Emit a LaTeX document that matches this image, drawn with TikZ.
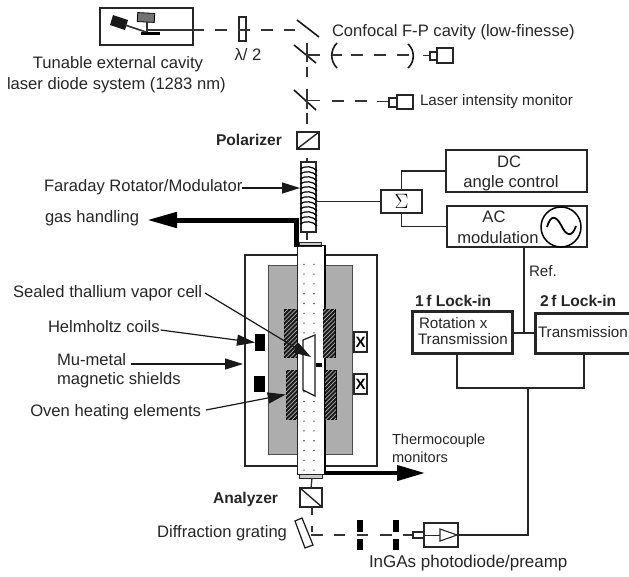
\documentclass[tikz,border=0pt]{standalone}
\usepackage{fontspec}
\setmainfont{Liberation Sans}
\usetikzlibrary{arrows.meta,patterns.meta,calc}
\tikzset{
 lbl/.style={anchor=west,inner sep=0pt,outer sep=0pt,font=\fontsize{16.6}{18}\selectfont,text=black!85},
 lbls/.style={lbl,font=\fontsize{15.2}{17}\selectfont},
 lblb/.style={lbl,font=\fontsize{15.6}{17}\selectfont\bfseries},
 ctr/.style={lbl,anchor=center},
 thinl/.style={line width=1.2pt,black!85},
 pbox/.style={draw=black!85,line width=1.3pt,fill=white,inner sep=0pt,outer sep=0pt},
 tbox/.style={pbox,line width=1.6pt},
 hbox/.style={pbox,line width=3pt},
 beam/.style={line width=1.2pt,black!80,dash pattern=on 12pt off 11pt},
 solidb/.style={line width=1.2pt,black!80},
 mirror/.style={line width=1.6pt,black!90},
 blk/.style={fill=black,draw=none,inner sep=0pt,outer sep=0pt},
 ptr/.style={line width=1.2pt,black!90,-{Triangle[length=18pt,width=11pt]}},
 hatchd/.style={fill=black!90,draw=black,line width=.6pt,postaction={pattern={Lines[angle=45,distance=3pt,line width=.7pt]},pattern color=white!70!black}},
 dotc/.style={fill=black!70,circle,inner sep=0pt,minimum size=1.6pt},
}
\begin{document}
\begin{tikzpicture}[x=1pt,y=-1pt]
\useasboundingbox (0,0) rectangle (629,576);
% laser
\node[tbox,minimum width=93pt,minimum height=37pt] (laser) at (146.5,26.5) {};
\fill[black!90] (113,15) -- (128,20) -- (125,30) -- (110,25) -- cycle;
\node[draw=black,fill=black!55,line width=.8pt,minimum width=17pt,minimum height=9pt,inner sep=0pt,rotate=-3] (gain) at (146,17.5) {};
\node[blk,minimum width=19pt,minimum height=3pt] (ggrat) at (150.5,33.5) {};
\draw[solidb,line width=1.6pt] (125,25) -- (146,32);
\draw[solidb,line width=1.6pt] (147,22) -- (147,32);
\coordinate (bstart) at (147,30);
\coordinate (bsolid) at (204,30);
\draw[solidb] (bstart) -- (bsolid);
\node[pbox,line width=1.2pt,minimum width=7pt,minimum height=24pt] (wave) at (242.5,29) {};
\draw[beam] (215,30) -- (295,30);
\node[ctr] (lam) at (248,55) {λ/ 2};
\node[ctr] (tun1) at (118,64) {Tunable external cavity};
\node[lbl] (tun2) at (7,85) {laser diode system (1283 nm)};
% mirrors
\draw[mirror] (297,20) -- (319,37);
\draw[mirror] (294,45) -- (316,63);
\draw[mirror] (294,90) -- (316,110);
\draw[solidb] (307,43) -- (307,62);
\draw[solidb] (307,55) -- (320,55);
\draw[solidb] (307,67) -- (307,77);
\draw[solidb] (307,89) -- (307,109);
\draw[solidb] (307,100.5) -- (320,100.5);
\draw[solidb] (307,113) -- (307,124);
% cavity
\draw[mirror] (337,43) .. controls (330,50) and (330,61) .. (337,68);
\draw[solidb] (332,55) -- (342,55);
\draw[beam] (351,55) -- (412,55);
\draw[mirror] (408,44) .. controls (415,50) and (415,62) .. (408,68);
\node[lbl] (conf) at (332,32) {Confocal F-P cavity (low-finesse)};
\draw[solidb] (423,55.5) -- (430,55.5);
\node[pbox,line width=1.1pt,minimum width=7pt,minimum height=8pt] (pdas) at (433.5,56) {};
\node[pbox,line width=1.1pt,minimum width=16pt,minimum height=15pt] (pdab) at (445,55.5) {};
% monitor
\draw[beam] (332,101) -- (370,101);
\draw[solidb] (377,101.5) -- (389,101.5);
\node[pbox,line width=1.1pt,minimum width=8pt,minimum height=9pt] (pdbs) at (393,102.5) {};
\node[pbox,line width=1.1pt,minimum width=16pt,minimum height=14pt] (pdbb) at (405,102) {};
\node[lbls] (lim) at (420,102) {Laser intensity monitor};
% polarizer
\node[pbox,line width=1.4pt,minimum width=22pt,minimum height=17pt] (pol) at (308,140.5) {};
\draw[line width=1.4pt,black!85] (pol.south west) -- (pol.north east);
\node[lblb] (polt) at (216,140) {Polarizer};
% outer housing
\node[pbox,minimum width=132pt,minimum height=211pt] (housing) at (311,360.5) {};
\node[draw=black!70,line width=1pt,fill=black!32,inner sep=0pt,minimum width=84pt,minimum height=189pt] (shield) at (310,359.5) {};
% tube
\node[draw=none,fill=white,inner sep=0pt,minimum width=28pt,minimum height=229pt] (tube) at (311,359.5) {};
\foreach \yy in {0,...,21}{
 \node[dotc] at (304,264.3+9.8*\yy) {};
 \node[dotc] at (314,264.3+9.8*\yy) {};
}
\draw[line width=1pt,black!85] (297,245) -- (297,474) -- (325,474);
\draw[line width=1.3pt,black] (325,245) -- (325,474);
\node[draw=black!85,fill=black!20,line width=.8pt,inner sep=0pt,minimum width=22pt,minimum height=4pt] (capt) at (310,244) {};
\draw[line width=1.1pt,black] (298,245.5) -- (325,245.5);
\node[draw=black!85,fill=black!20,line width=.8pt,inner sep=0pt,minimum width=23pt,minimum height=4pt] (capb) at (310.5,476.5) {};
% oven heaters
\node[hatchd,inner sep=0pt,minimum width=13pt,minimum height=48pt] (ul) at (290.5,333) {};
\node[hatchd,inner sep=0pt,minimum width=12pt,minimum height=48pt] (ur) at (329,333) {};
\node[hatchd,inner sep=0pt,minimum width=11pt,minimum height=49pt] (ll) at (291.5,394.5) {};
\node[hatchd,inner sep=0pt,minimum width=11pt,minimum height=49pt] (lr) at (330.5,394.5) {};
% cell
\draw[line width=1.2pt,fill=white,draw=black!90] (303,340) -- (315,335) -- (315,396) -- (303,390) -- cycle;
\node[blk,minimum width=6pt,minimum height=4pt] (tl) at (319,365) {};
% helmholtz
\node[blk,minimum width=10pt,minimum height=17pt] (h1) at (260,342.5) {};
\node[blk,minimum width=11pt,minimum height=16pt] (h2) at (259.5,384) {};
\node[pbox,line width=1.4pt,minimum width=13pt,minimum height=20pt,font=\fontsize{15}{15}\selectfont\bfseries] (x1) at (360.5,342) {X};
\node[pbox,line width=1.4pt,minimum width=13pt,minimum height=20pt,font=\fontsize{15}{15}\selectfont\bfseries] (x2) at (360.5,384) {X};
% rotator
\draw[solidb] (307,158) -- (307,240);
\node[pbox,line width=1.1pt,minimum width=15pt,minimum height=70pt] (rot) at (308.5,197) {};
\foreach \yy in {0,...,11}{
 \draw[line width=1.2pt,black] (300,169+5*\yy) .. controls (305,165.5+5*\yy) and (313,166+5*\yy) .. (317,171+5*\yy);
}
% thick gas arrow
\coordinate (gasfrom) at (296,247);
\coordinate (gasto) at (147,220);
\draw[line width=5pt,black,miter limit=10,-{Triangle[length=30pt,width=15pt]}] (gasfrom) |- (gasto);
% thermocouple arrow
\coordinate (thto) at (425,473);
\draw[line width=4pt,black,-{Triangle[length=28pt,width=15pt]}] (325,473) -- (thto);
% left labels
\node[lbl] (far) at (44,187) {Faraday Rotator/Modulator};
\node[lbl] (gas) at (45,218) {gas handling};
\node[lbl] (seal) at (13,293) {Sealed thallium vapor cell};
\node[lbl] (helm) at (48,327) {Helmholtz coils};
\node[lbl] (mu1) at (57,360) {Mu-metal};
\node[lbl] (mu2) at (57,380) {magnetic shields};
\node[lbl,anchor=east] (oven) at (201,412) {Oven heating elements};
\node[lbl,font=\fontsize{14.6}{16}\selectfont] (therm1) at (392,441) {Thermocouple};
\node[lbl,font=\fontsize{14.6}{16}\selectfont] (therm2) at (392,457) {monitors};
\node[lblb] (ana) at (213,499) {Analyzer};
\node[lbl,anchor=east] (dif) at (287,533) {Diffraction grating};
\node[lbl,font=\fontsize{17}{18}\selectfont] (ing) at (369,563) {InGAs photodiode/preamp};
% pointers
\coordinate (ptfar) at (300,188);
\draw[ptr] (far.east |- ptfar) -- (ptfar);
\coordinate (ptcell) at (311,357);
\coordinate (ptseal) at (205,293);
\draw[ptr] (ptseal) -- (ptcell);
\draw[ptr] (helm.east) ++(1,3) -- (h1.west);
\coordinate (ptmu) at (131,364);
\coordinate (ptmuto) at (243,364);
\draw[ptr] (ptmu) -- (ptmuto);
\draw[ptr] (oven.east) ++(5,-2) -- (ll.west);
% analyzer etc
\coordinate (below) at (312,478);
\node[pbox,line width=1.4pt,minimum width=22pt,minimum height=19pt] (anab) at (311,497.5) {};
\draw[solidb,line width=1.3pt] (below) -- (anab.north);
\draw[line width=1.4pt,black!85] (anab.north west) -- (anab.south east);
\coordinate (anaout) at (312,515);
\draw[solidb] (anab.south -| anaout) -- (anaout);
\draw[solidb] (312,526) -- (312,532);
\draw[line width=1.2pt,fill=white,draw=black!90] (295,521) -- (302,518) -- (313,545) -- (305,548) -- cycle;
\draw[beam] (311,535) -- (345,535);
\draw[solidb] (357,535) -- (368,535);
\draw[solidb] (380,535) -- (392,535);
\node[blk,minimum width=6pt,minimum height=12pt] (i1a) at (359.5,526) {};
\node[blk,minimum width=6pt,minimum height=11pt] (i1b) at (359.5,544.5) {};
\node[blk,minimum width=6pt,minimum height=12pt] (i2a) at (395.5,526) {};
\node[blk,minimum width=6pt,minimum height=11pt] (i2b) at (395.5,544.5) {};
\draw[solidb] (403,535) -- (413,535);
\node[pbox,line width=1.1pt,minimum width=11pt,minimum height=6pt] (dets) at (418.5,535) {};
\node[pbox,line width=1.2pt,minimum width=34pt,minimum height=24pt] (det) at (441,535) {};
\draw[line width=1.1pt,draw=black!85,fill=white] (440,529) -- (440,541) -- (457,535) -- cycle;
\draw[line width=1pt,black!85] (det.west) -- (440,535);
% electronics
\node[pbox,line width=1.4pt,minimum width=41pt,minimum height=23pt] (sum) at (401.5,201.5) {\fontsize{21}{21}\selectfont$\Sigma$};
\node[tbox,minimum width=141pt,minimum height=42pt] (dc) at (516.5,171) {};
\node[tbox,minimum width=140pt,minimum height=41pt] (ac) at (517,226.5) {};
\node[ctr] (dct) at (509,162) {DC};
\node[ctr] (dct2) at (511,183) {angle control};
\node[ctr] (act) at (494,217) {AC};
\node[ctr] (act2) at (498,238) {modulation};
\node[circle,draw=black,line width=1.5pt,fill=white,minimum size=40pt,inner sep=0pt] (osc) at (561,227) {};
\draw[line width=1.8pt,black] (547,227) .. controls (551,214) and (556,216) .. (561,225) .. controls (566,236) and (572,238) .. (576,226);
\draw[thinl] (rot.east |- sum.west) -- (sum.west);
\draw[thinl] (sum.north) |- (dc.west);
\draw[thinl] (sum.south) |- (ac.west);
\node[lbls] (ref) at (529,271) {Ref.};
\node[lblb] (l1) at (415,301) {1\,f Lock-in};
\node[lblb] (l2) at (540,301) {2\,f Lock-in};
\node[hbox,minimum width=100pt,minimum height=42pt] (li1) at (462,332) {};
\node[hbox,minimum width=95pt,minimum height=40pt] (li2) at (582.5,333) {};
\node[lbls] (rt1) at (419,323) {Rotation x};
\node[lbls] (rt2) at (418,339) {Transmission};
\node[lbls] (rt3) at (538,332) {Transmission};
\coordinate (refj) at (524,333);
\draw[thinl] (ac.south -| refj) -- (refj);
\draw[thinl] (li1.east |- refj) -- (li2.west |- refj);
\coordinate (ja) at (457,388);
\coordinate (jb) at (584,388);
\coordinate (jc) at (528,388);
\draw[thinl] (li1.south -| ja) -- (ja) -- (jb) -- (li2.south -| jb);
\draw[thinl] (jc) |- (det.east);
\end{tikzpicture}
\end{document}
